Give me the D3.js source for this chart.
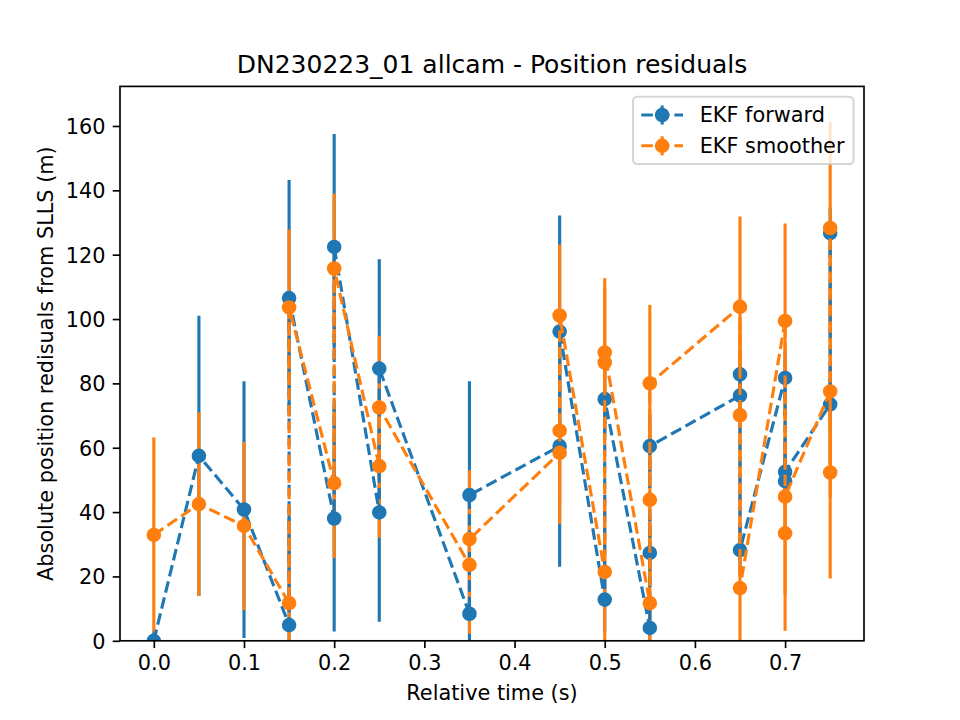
<!DOCTYPE html>
<head>
<meta charset="utf-8">
<style>
body { margin: 0; background: #fff; }
svg { font-family: "DejaVu Sans", sans-serif; }
.tick text { font-size: 20.83px; fill: #000; }
.tick line { stroke: #000; stroke-width: 1.67px; }
</style>
</head>
<body>
<svg width="960" height="720"></svg>
<script src="https://cdn.jsdelivr.net/npm/d3@7"></script>
<script>
// EKF forward: points in the order they were logged (line joins them in this order)
var fwdTime = [0.0, 0.05, 0.1, 0.15, 0.15, 0.2, 0.2, 0.25, 0.25, 0.35, 0.35, 0.45, 0.45,
               0.5, 0.5, 0.55, 0.55, 0.55, 0.65, 0.65, 0.65, 0.7, 0.7, 0.7, 0.75, 0.75];
var fwdRes  = [0.0, 57.5, 40.8, 4.9, 106.5, 38.0, 122.4, 39.9, 84.6, 8.4, 45.3, 60.5, 96.1,
               12.8, 75.1, 4.0, 27.3, 60.5, 76.2, 82.8, 28.2, 81.7, 49.6, 52.5, 73.5, 126.7];
// bars hidden behind the smoother's are kept short
var fwdErr  = [3, 43.5, 39.9, 36.7, 36.7, 35.1, 35.1, 34.0, 34.0, 35.4, 35.4, 37.5, 36.1,
               10, 10, 10, 10, 10, 8, 8, 8, 8, 8, 8, 8, 8];

// EKF smoother
var smoTime = [0.0, 0.05, 0.1, 0.15, 0.15, 0.2, 0.2, 0.25, 0.25, 0.35, 0.35, 0.45, 0.45, 0.45,
               0.5, 0.5, 0.5, 0.55, 0.55, 0.55, 0.65, 0.65, 0.65, 0.7, 0.7, 0.7, 0.75, 0.75, 0.75];
var smoRes  = [32.9, 42.5, 35.7, 11.7, 103.6, 49.0, 115.7, 54.3, 72.5, 23.6, 31.6, 58.4, 65.3, 101.1,
               21.4, 86.5, 89.6, 11.7, 43.8, 80.0, 103.8, 70.1, 16.4, 99.4, 33.4, 44.8, 77.5, 52.3, 128.3];
var smoErr  = [30.3, 28.5, 26.1, 24.2, 24.2, 23.3, 23.3, 22.3, 22.3, 21.4, 21.4, 22.1, 22.1, 22.1,
               23.1, 23.1, 23.1, 24.4, 24.4, 24.4, 28.1, 28.1, 28.1, 30.3, 30.3, 30.3, 32.9, 32.9, 32.9];

var xTicks = [0.0, 0.1, 0.2, 0.3, 0.4, 0.5, 0.6, 0.7];
var yTicks = [0, 20, 40, 60, 80, 100, 120, 140, 160];

var titleText = "DN230223_01 allcam - Position residuals";
var xLabel = "Relative time (s)";
var yLabel = "Absolute position redisuals from SLLS (m)";

var series = [
  {name: "EKF forward", color: "#1f77b4", t: fwdTime, v: fwdRes, e: fwdErr},
  {name: "EKF smoother", color: "#ff7f0e", t: smoTime, v: smoRes, e: smoErr}
];

var svg = d3.select("svg"),
    pLeft = 120, pRight = 864, pTop = 86.4, pBottom = 640.8;

var x = d3.scaleLinear().domain([-0.0375, 0.7875]).range([pLeft, pRight]);
var y = d3.scaleLinear().domain([0, 172.3]).range([pBottom, pTop]);

var lw = 3.125, dash = "11.56,5", mr = 6.25;

svg.append("clipPath").attr("id", "plot")
  .append("rect").attr("x", pLeft).attr("y", pTop)
  .attr("width", pRight - pLeft).attr("height", pBottom - pTop);

var plot = svg.append("g").attr("clip-path", "url(#plot)");

// error bars first (matplotlib puts data lines above all bars)
series.forEach(function(s) {
  plot.append("g").selectAll("line")
    .data(d3.range(s.t.length))
    .enter().append("line")
      .attr("x1", function(i) { return x(s.t[i]); })
      .attr("x2", function(i) { return x(s.t[i]); })
      .attr("y1", function(i) { return y(s.v[i] - s.e[i]); })
      .attr("y2", function(i) { return y(s.v[i] + s.e[i]); })
      .style("stroke", s.color)
      .style("stroke-width", lw);
});

series.forEach(function(s) {
  var idx = d3.range(s.t.length);
  var path = d3.line()
      .x(function(i) { return x(s.t[i]); })
      .y(function(i) { return y(s.v[i]); });
  plot.append("path")
    .attr("d", path(idx))
    .style("fill", "none")
    .style("stroke", s.color)
    .style("stroke-width", lw)
    .style("stroke-dasharray", dash)
    .style("stroke-linejoin", "round");
  plot.append("g").selectAll("circle")
    .data(idx)
    .enter().append("circle")
      .attr("cx", function(i) { return x(s.t[i]); })
      .attr("cy", function(i) { return y(s.v[i]); })
      .attr("r", mr)
      .style("fill", s.color)
      .style("stroke", s.color)
      .style("stroke-width", 2.08);
});

// axes
var xAxis = svg.append("g")
    .attr("transform", "translate(0," + pBottom + ")")
    .call(d3.axisBottom(x).tickValues(xTicks).tickFormat(d3.format(".1f"))
      .tickSize(7.3).tickPadding(7.3));
var yAxis = svg.append("g")
    .attr("transform", "translate(" + pLeft + ",0)")
    .call(d3.axisLeft(y).tickValues(yTicks).tickFormat(d3.format("d"))
      .tickSize(7.3).tickPadding(7.3));
svg.selectAll(".domain").remove();
svg.selectAll(".tick text").attr("font-family", "DejaVu Sans").attr("font-size", 20.83);
yAxis.selectAll(".tick text").attr("dy", "0.36em");

svg.append("rect")
    .attr("x", pLeft).attr("y", pTop)
    .attr("width", pRight - pLeft).attr("height", pBottom - pTop)
    .style("fill", "none").style("stroke", "#000").style("stroke-width", 1.67);

svg.append("text")
    .attr("x", (pLeft + pRight) / 2).attr("y", 73)
    .attr("text-anchor", "middle")
    .style("font-size", "25px")
    .text(titleText);

svg.append("text")
    .attr("x", (pLeft + pRight) / 2).attr("y", 700)
    .attr("text-anchor", "middle")
    .style("font-size", "20.83px")
    .text(xLabel);

svg.append("text")
    .attr("transform", "translate(53," + (pTop + pBottom) / 2 + ") rotate(-90)")
    .attr("text-anchor", "middle")
    .style("font-size", "20.83px")
    .text(yLabel);

// legend
var lg = svg.append("g");
lg.append("rect")
    .attr("x", 633).attr("y", 96.8)
    .attr("width", 853.6 - 633).attr("height", 164 - 96.8)
    .attr("rx", 4.2)
    .style("fill", "#fff").style("fill-opacity", 0.8)
    .style("stroke", "#ccc").style("stroke-opacity", 0.8).style("stroke-width", 2.08);

var item = lg.selectAll("g.item")
    .data(series)
  .enter().append("g")
    .attr("class", "item")
    .attr("transform", function(d, i) { return "translate(641.3," + (115 + i * 30.8) + ")"; });

item.append("line")
    .attr("x1", 20.85).attr("x2", 20.85).attr("y1", -9.5).attr("y2", 9.5)
    .style("stroke", function(d) { return d.color; })
    .style("stroke-width", lw);
item.append("line")
    .attr("x1", 0).attr("x2", 41.7)
    .style("stroke", function(d) { return d.color; })
    .style("stroke-width", lw)
    .style("stroke-dasharray", dash);
item.append("circle")
    .attr("cx", 20.85).attr("r", mr)
    .style("fill", function(d) { return d.color; })
    .style("stroke", function(d) { return d.color; })
    .style("stroke-width", 2.08);
item.append("text")
    .attr("x", 58.4).attr("y", 6.8)
    .style("font-size", "20.83px")
    .text(function(d) { return d.name; });
</script>
</body>
